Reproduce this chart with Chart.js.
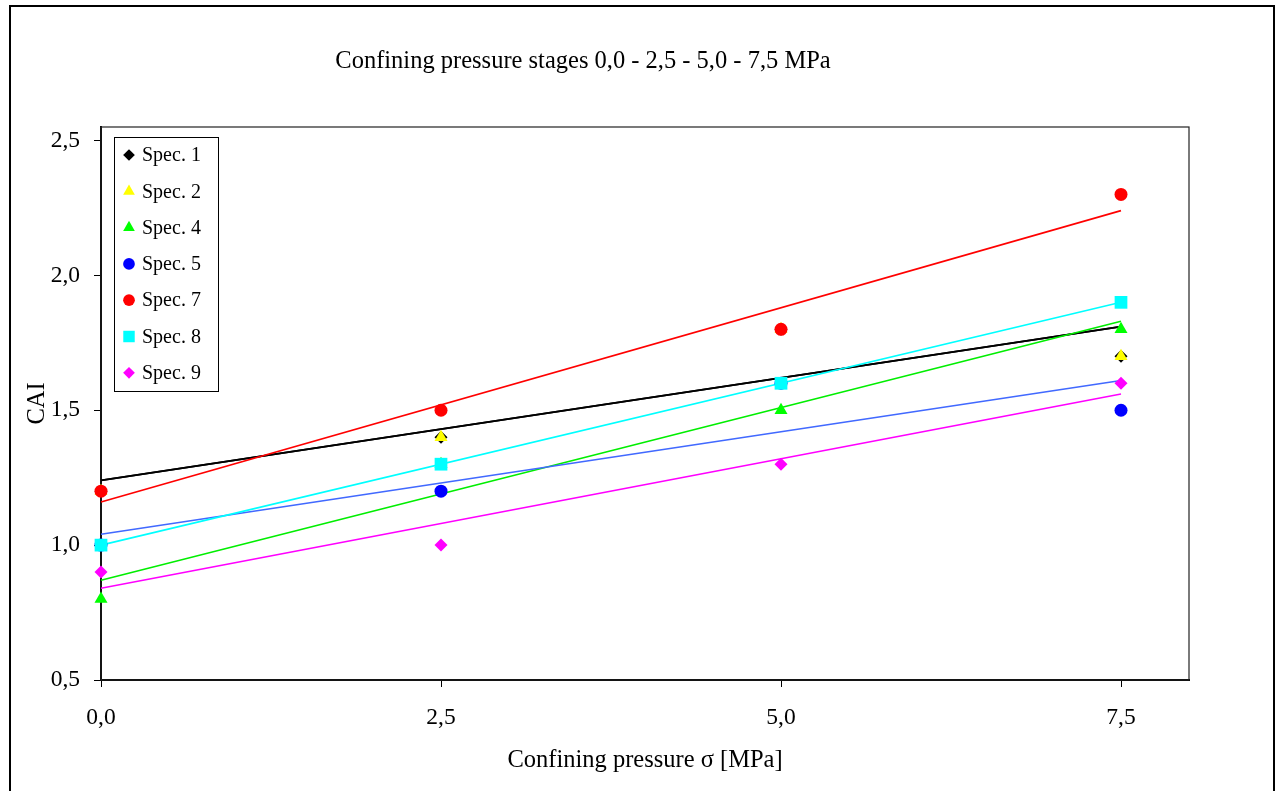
<!DOCTYPE html>
<html>
<head>
<meta charset="utf-8">
<script src="https://cdn.jsdelivr.net/npm/chart.js@4/dist/chart.umd.min.js"></script>
<style>
  html, body { margin: 0; padding: 0; background: #fff; overflow: hidden; }
  #wrap { position: relative; width: 1279px; height: 791px; }
  #frame { position: absolute; left: 9px; top: 5px; width: 1262px; height: 800px;
           border: 2px solid #000; border-bottom: none; pointer-events: none; }
</style>
</head>
<body>
<div id="wrap">
  <canvas id="myChart" width="1279" height="791"></canvas>
  <div id="frame"></div>
</div>
<script>
const pressures = [0, 2.5, 5, 7.5]
const xTicks = [0, 2.5, 5, 7.5]
const yTicks = [0.5, 1.0, 1.5, 2.0, 2.5]

const labels = ['Spec. 1', 'Spec. 2', 'Spec. 4', 'Spec. 5', 'Spec. 7', 'Spec. 8', 'Spec. 9']
const spec1 = [1.2, 1.4, 1.8, 1.7]
const spec2 = [1.2, 1.4, 1.8, 1.7]
const spec4 = [0.8, 1.3, 1.5, 1.8]
const spec5 = [1.0, 1.2, 1.6, 1.5]
const spec7 = [1.2, 1.5, 1.8, 2.3]
const spec8 = [1.0, 1.3, 1.6, 1.9]
const spec9 = [0.9, 1.0, 1.3, 1.6]

const markerColors = ['#000000', '#ffff00', '#00ff00', '#0000ff', '#ff0000', '#00ffff', '#ff00ff']
const lineColors = ['#000000', '#000000', '#00ee00', '#4169ff', '#ff0000', '#00ffff', '#ff00ff']
const styles = ['rectRot', 'triangle', 'triangle', 'circle', 'circle', 'rect', 'rectRot']
const radii = [6.5, 7.5, 7.5, 6.5, 6.5, 9, 6.5]
const series = [spec1, spec2, spec4, spec5, spec7, spec8, spec9]

// least squares trend line, evaluated at first and last pressure
function trend(ys) {
  const n = pressures.length
  const mx = pressures.reduce((a, b) => a + b, 0) / n
  const my = ys.reduce((a, b) => a + b, 0) / n
  let sxy = 0, sxx = 0
  pressures.forEach((x, i) => { sxy += (x - mx) * (ys[i] - my); sxx += (x - mx) * (x - mx) })
  const k = sxy / sxx
  const b = my - k * mx
  const x0 = pressures[0], x1 = pressures[n - 1]
  return [{ x: x0, y: b + k * x0 }, { x: x1, y: b + k * x1 }]
}

const datasets = []
series.forEach((ys, i) => {
  datasets.push({
    label: labels[i] + ' trend',
    data: trend(ys),
    showLine: true,
    borderColor: lineColors[i],
    borderWidth: 1.6,
    pointRadius: 0,
    clip: false,
    order: 200 - i
  })
})
series.forEach((ys, i) => {
  datasets.push({
    label: labels[i],
    data: ys.map((y, j) => ({ x: pressures[j], y: y })),
    showLine: false,
    pointStyle: styles[i],
    pointRadius: radii[i],
    pointHoverRadius: radii[i],
    backgroundColor: markerColors[i],
    borderColor: markerColors[i],
    borderWidth: 0,
    clip: false,
    order: 100 - i
  })
})

const fmt = v => v.toFixed(1).replace('.', ',')

const decor = {
  id: 'decor',
  beforeDatasetsDraw(chart) {
    const { ctx, chartArea: a } = chart
    ctx.save()
    ctx.strokeStyle = '#222'
    ctx.lineWidth = 1.2
    ctx.strokeRect(a.left, a.top, a.right - a.left, a.bottom - a.top)
    ctx.restore()
  },
  afterDraw(chart) {
    const { ctx } = chart
    ctx.save()
    // title
    ctx.fillStyle = '#000'
    ctx.font = '24.5px "Liberation Serif"'
    ctx.textAlign = 'center'
    ctx.textBaseline = 'middle'
    ctx.fillText('Confining pressure stages 0,0 - 2,5 - 5,0 - 7,5 MPa', 583, 62)

    // legend box
    const bx = 114, by = 137, bw = 104, bh = 254
    ctx.fillStyle = '#fff'
    ctx.fillRect(bx, by, bw, bh)
    ctx.strokeStyle = '#000'
    ctx.lineWidth = 1
    ctx.strokeRect(bx + 0.5, by + 0.5, bw, bh)
    ctx.font = '20px "Liberation Serif"'
    ctx.textAlign = 'left'
    labels.forEach((lab, i) => {
      const y = 155 + i * 36.3
      ctx.fillStyle = markerColors[i]
      ctx.strokeStyle = markerColors[i]
      Chart.helpers.drawPoint(ctx, { pointStyle: styles[i], radius: radii[i] * 0.9, rotation: 0, borderWidth: 0 }, 129, y)
      ctx.fillStyle = '#000'
      ctx.fillText(lab, 142, y + 1)
    })
    ctx.restore()
  }
}

const myChart = new Chart(document.getElementById('myChart').getContext('2d'), {
  type: 'scatter',
  data: { datasets: datasets },
  options: {
    responsive: false,
    animation: false,
    layout: { padding: { left: 0, top: 127, right: 90, bottom: 0 } },
    plugins: {
      legend: { display: false },
      tooltip: { enabled: false },
      title: { display: false }
    },
    scales: {
      x: {
        type: 'linear',
        min: 0,
        max: 8,
        afterBuildTicks: s => { s.ticks = xTicks.map(v => ({ value: v })) },
        afterFit: s => { s.height = 111 },
        border: { color: '#000', width: 2 },
        grid: { drawOnChartArea: false, color: '#000', tickLength: 7, tickWidth: 1 },
        ticks: {
          color: '#000',
          padding: 17,
          font: { family: 'Liberation Serif', size: 23.5 },
          maxRotation: 0,
          callback: v => fmt(v)
        },
        title: {
          display: true,
          text: 'Confining pressure σ [MPa]',
          color: '#000',
          font: { family: 'Liberation Serif', size: 24.5 },
          padding: { top: 0, bottom: 16 }
        }
      },
      y: {
        type: 'linear',
        min: 0.5,
        max: 2.55,
        afterBuildTicks: s => { s.ticks = yTicks.map(v => ({ value: v })) },
        afterFit: s => { s.width = 101 },
        border: { color: '#000', width: 2 },
        grid: { drawOnChartArea: false, color: '#000', tickLength: 7, tickWidth: 1 },
        ticks: {
          color: '#000',
          padding: 14,
          font: { family: 'Liberation Serif', size: 23.5 },
          callback: v => fmt(v)
        },
        title: {
          display: true,
          text: 'CAI',
          color: '#000',
          font: { family: 'Liberation Serif', size: 24.5 },
          padding: { top: 23, bottom: 0 }
        }
      }
    }
  },
  plugins: [decor]
})
</script>
</body>
</html>
